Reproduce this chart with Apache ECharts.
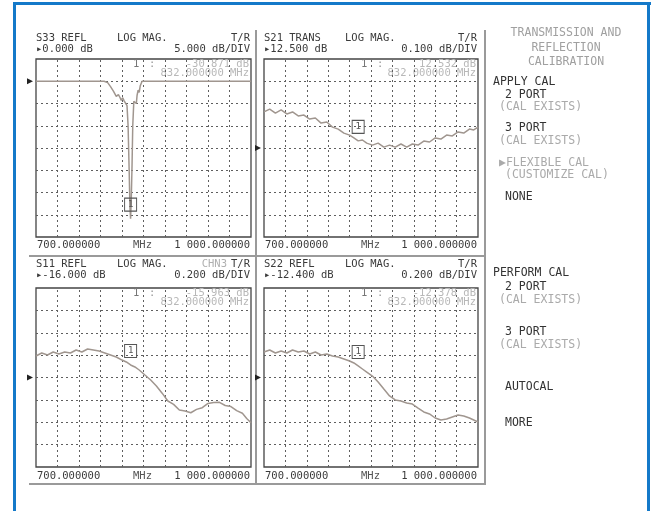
<!DOCTYPE html>
<html><head><meta charset="utf-8">
<script src="https://cdn.jsdelivr.net/npm/echarts@6/dist/echarts.min.js"></script>
<style>html,body{margin:0;padding:0;background:#fff}#c{width:653px;height:511px}</style>
</head><body><div id="c"></div>
<script>
// ---------- data ----------
const freqMHz = [700,708,716,724,732,740,748,756,764,772,780,788,796,804,812,820,826,832,838,844,852,860,868,876,884,892,900,908,916,924,932,940,948,956,964,972,980,988,994,1000];
const s33Freq = [700,720,740,760,780,795,800,804,808,812,815,817,819,821,823,825,827,828.5,830,831,832,833,834,835,836.5,838,840,841,842.5,844,845.5,848,860,880,900,930,960,1000];
const s33Vals = [0,0,0,0,0,0,-0.3,-1.2,-2.2,-3.4,-3.0,-3.6,-4.3,-3.7,-4.4,-4.0,-5.5,-10,-20,-28,-30.871,-26,-19,-10,-4.5,-4.2,-5.0,-3.2,-2.0,-2.5,-1.0,0,0,0,0,0,0,0];
const s21Vals = [12.662,12.675,12.657,12.671,12.653,12.662,12.644,12.648,12.630,12.635,12.612,12.617,12.594,12.585,12.567,12.558,12.545,12.532,12.536,12.522,12.513,12.522,12.504,12.513,12.504,12.518,12.504,12.518,12.513,12.531,12.527,12.545,12.540,12.558,12.554,12.572,12.567,12.585,12.581,12.594];
const s11Vals = [-15.808,-15.781,-15.799,-15.772,-15.790,-15.772,-15.781,-15.754,-15.772,-15.745,-15.754,-15.763,-15.781,-15.799,-15.817,-15.844,-15.861,-15.888,-15.906,-15.933,-15.978,-16.022,-16.076,-16.140,-16.210,-16.240,-16.290,-16.300,-16.315,-16.285,-16.270,-16.232,-16.224,-16.222,-16.250,-16.260,-16.296,-16.320,-16.366,-16.405];
const s22Vals = [-12.172,-12.154,-12.181,-12.163,-12.181,-12.154,-12.172,-12.163,-12.190,-12.172,-12.199,-12.190,-12.208,-12.217,-12.235,-12.253,-12.270,-12.297,-12.324,-12.351,-12.387,-12.440,-12.503,-12.565,-12.601,-12.610,-12.628,-12.637,-12.673,-12.708,-12.726,-12.762,-12.780,-12.771,-12.753,-12.735,-12.744,-12.762,-12.780,-12.798];

const panelNames = ['S33 REFL','S21 TRANS','S11 REFL','S22 REFL'];
const refLevels = [0, 12.5, -16, -12.4];
const refTexts = ['\u25B80.000 dB','\u25B812.500 dB','\u25B8-16.000 dB','\u25B8-12.400 dB'];
const scaleTexts = ['5.000 dB/DIV','0.100 dB/DIV','0.200 dB/DIV','0.200 dB/DIV'];
const yMins = [-35, 12.1, -16.8, -13.2];
const yMaxs = [5, 12.9, -15.2, -11.6];
const yTicks = [
  [0,-5,-10,-15,-20,-25,-30],
  [12.8,12.7,12.6,12.5,12.4,12.3,12.2],
  [-15.4,-15.6,-15.8,-16.0,-16.2,-16.4,-16.6],
  [-11.8,-12.0,-12.2,-12.4,-12.6,-12.8,-13.0]
];
const xTicks = [730,760,790,820,850,880,910,940,970];
const markerFreq = 832;
const markerReadouts = ['-30.871 dB','12.532 dB','-15.963 dB','-12.378 dB'];
const markerFreqText = '832.000000 MHz';
const startText = '700.000000', unitText = 'MHz', stopText = '1 000.000000';
const menuItems = [
  ['TRANSMISSION AND','title'],['REFLECTION','title'],['CALIBRATION','title'],
  ['APPLY CAL','head'],['2 PORT','item'],['(CAL EXISTS)','note'],
  ['3 PORT','item'],['(CAL EXISTS)','note'],
  ['\u25B6FLEXIBLE CAL','note'],['(CUSTOMIZE CAL)','note2'],
  ['NONE','item'],
  ['PERFORM CAL','head'],['2 PORT','item'],['(CAL EXISTS)','note'],
  ['3 PORT','item'],['(CAL EXISTS)','note'],
  ['AUTOCAL','item'],['MORE','item']
];

// ---------- layout ----------
const boxes = [[36,59,215,178],[264,59,214,178],[36,288,215,179],[264,288,214,179]];
const headY = [[38,49],[38,49],[264,275],[264,275]];
const readY = [[64,73],[64,73],[293,302],[293,302]];
const freqLabY = [245,245,476,476];
const menuY = [33,48,62,82,95,107,128,141,163,175,197,273,287,300,332,345,387,423];
const FONT = '"DejaVu Sans Mono","Liberation Mono",monospace';
const TRACE = '#a0968f';
const DARK = '#3a3a3a';

const series = [[s33Freq,s33Vals],[freqMHz,s21Vals],[freqMHz,s11Vals],[freqMHz,s22Vals]];

const grids = [], xAxes = [], yAxes = [], ser = [], gfx = [];
function txt(x,y,text,size,fill,align){
  return {type:'text',x:x,y:y,silent:true,style:{text:text,font:size+'px '+FONT,fill:fill,align:align||'left',verticalAlign:'middle'}};
}

boxes.forEach((b,i)=>{
  grids.push({left:b[0],top:b[1],width:b[2],height:b[3],show:true,borderColor:'#444',borderWidth:1.3,backgroundColor:'#fff'});
  xAxes.push({type:'value',gridIndex:i,min:700,max:1000,show:false,splitLine:{show:false}});
  yAxes.push({type:'value',gridIndex:i,min:yMins[i],max:yMaxs[i],show:false,splitLine:{show:false}});
  const fx = series[i][0], vy = series[i][1];
  const mi = fx.indexOf(markerFreq);
  ser.push({
    type:'line',xAxisIndex:i,yAxisIndex:i,showSymbol:false,z:3,
    data: fx.map((f,k)=>[f,vy[k]]),
    lineStyle:{color:TRACE,width:1.5},
    markLine:{silent:true,symbol:'none',label:{show:false},z:1,
      lineStyle:{color:'#5e5e5e',width:1,type:[2,3]},
      emphasis:{disabled:true},
      data: xTicks.map(f=>({xAxis:f})).concat(yTicks[i].map(v=>({yAxis:v})))},
    markPoint:{silent:true,z:5,data:[
      {coord:[markerFreq,vy[mi]],symbol:'rect',symbolSize:[12,13],symbolOffset:[0,-14],
       itemStyle:{color:'rgba(255,255,255,0)',borderColor:'#555',borderWidth:1},
       label:{show:true,position:'inside',formatter:'1',color:'#555',fontSize:9,fontFamily:FONT}},
      {coord:[700,refLevels[i]],symbol:'triangle',symbolSize:[6,6],symbolRotate:-90,symbolOffset:[-6,0],
       itemStyle:{color:'#222'},label:{show:false}}
    ]}
  });
  const L=b[0], R=b[0]+b[2];
  gfx.push(txt(L,headY[i][0],panelNames[i],10.5,DARK));
  gfx.push(txt(L+81,headY[i][0],'LOG MAG.',10.5,DARK));
  gfx.push(txt(R-1,headY[i][0],'T/R',10.5,DARK,'right'));
  if(i===2) gfx.push(txt(R-24,headY[i][0],'CHN3',10.5,'#b0b0b0','right'));
  gfx.push(txt(L,headY[i][1],refTexts[i],10.5,DARK));
  gfx.push(txt(R-1,headY[i][1],scaleTexts[i],10.5,DARK,'right'));
  gfx.push(txt(L+97,readY[i][0],'1',10.5,'#777'));
  gfx.push(txt(L+113,readY[i][0],':',10.5,'#999'));
  gfx.push(txt(R-2,readY[i][0],markerReadouts[i],10.5,'#b8b8b8','right'));
  gfx.push(txt(R-2,readY[i][1],markerFreqText,10.5,'#b8b8b8','right'));
  gfx.push(txt(L+1,freqLabY[i],startText,10.5,DARK));
  gfx.push(txt(L+97,freqLabY[i],unitText,10.5,'#555'));
  gfx.push(txt(R-1,freqLabY[i],stopText,10.5,DARK,'right'));
});

// frame and dividers
const BLUE = '#1479c9';
gfx.push({type:'rect',silent:true,shape:{x:13,y:2,width:3,height:511},style:{fill:BLUE}});
gfx.push({type:'rect',silent:true,shape:{x:13,y:2,width:638,height:3},style:{fill:BLUE}});
gfx.push({type:'rect',silent:true,shape:{x:647,y:2,width:3,height:511},style:{fill:BLUE}});
const GR = '#9a9a9a';
gfx.push({type:'rect',silent:true,shape:{x:255,y:30,width:2,height:455},style:{fill:GR}});
gfx.push({type:'rect',silent:true,shape:{x:484,y:30,width:2,height:455},style:{fill:GR}});
gfx.push({type:'rect',silent:true,shape:{x:29,y:255,width:457,height:2},style:{fill:GR}});
gfx.push({type:'rect',silent:true,shape:{x:29,y:483,width:457,height:2},style:{fill:GR}});

// menu
menuItems.forEach((m,k)=>{
  const kind=m[1]; let x=493, al='left', col='#333';
  if(kind==='title'){x=566;al='center';col='#a0a0a0';}
  else if(kind==='head'){x=493;}
  else if(kind==='item'){x=505;}
  else if(kind==='note'){x=499;col='#aaa';}
  else if(kind==='note2'){x=505;col='#aaa';}
  gfx.push(txt(x,menuY[k],m[0],11.5,col,al));
});

const chart = echarts.init(document.getElementById('c'),null,{renderer:'canvas'});
chart.setOption({
  animation:false,
  backgroundColor:'#fff',
  grid:grids, xAxis:xAxes, yAxis:yAxes, series:ser,
  graphic:{elements:gfx}
});
</script></body></html>
